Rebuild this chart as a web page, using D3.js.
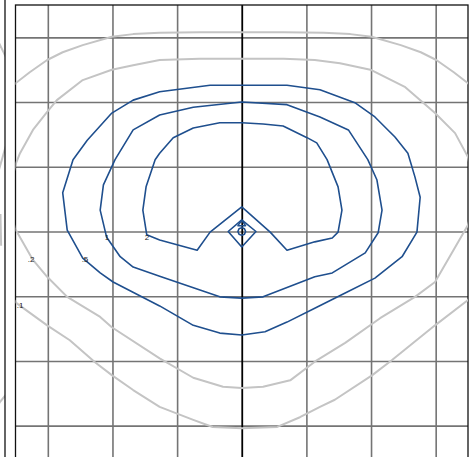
<!DOCTYPE html>
<html>
<head>
<meta charset="utf-8">
<script src="https://cdn.jsdelivr.net/npm/d3@7"></script>
<style>
  html, body { margin: 0; padding: 0; background: #fff; }
  svg { display: block; }
</style>
</head>
<body>
<svg id="chart" width="475" height="457"></svg>
<script>
// ---------- data (plot units, grid at integers) ----------
const gridTicks = [-3, -2, -1, 0, 1, 2, 3];
const levelLabels = [".1", ".2", ".5", "1", "2"];
const labelAnchors = [[-3.43, -1.15], [-3.26, -0.425], [-2.425, -0.425], [-2.085, -0.10], [-1.466, -0.10]];

const c01Top = [[-3.62,2.16],[-3.50,2.29],[-3.28,2.46],[-3.01,2.65],[-2.77,2.77],[-2.46,2.88],[-2.01,3.01],
  [-1.68,3.05],[-1.27,3.07],[-0.65,3.08],[0,3.08],[0.65,3.08],[1.27,3.07],[1.68,3.05],[2.01,3.01],
  [2.46,2.88],[2.77,2.77],[3.01,2.65],[3.28,2.46],[3.50,2.29],[3.62,2.16]];
const c01Bottom = [[-3.62,-0.93],[-3.48,-1.11],[-3.01,-1.45],[-2.66,-1.68],[-2.27,-2.02],[-2.01,-2.22],[-1.68,-2.45],
  [-1.27,-2.71],[-0.75,-2.91],[-0.45,-3.02],[0,-3.04],[0.55,-3.02],[0.90,-2.87],[1.21,-2.71],[1.44,-2.60],
  [2.02,-2.22],[2.32,-1.99],[2.99,-1.45],[3.50,-1.06],[3.62,-0.95]];
const c02 = [[-3.62,0.56],[-3.49,1.06],[-3.43,1.21],[-3.23,1.57],[-3.01,1.85],[-2.86,2.03],[-2.46,2.34],
  [-2.01,2.50],[-1.68,2.57],[-1.27,2.65],[-0.65,2.67],[0,2.67],[0.65,2.67],[1.13,2.65],[1.52,2.60],
  [1.99,2.50],[2.53,2.23],[2.99,1.83],[3.30,1.52],[3.50,1.15],[3.62,0.56],[3.50,0.10],[2.99,-0.78],
  [2.68,-1.01],[2.14,-1.34],[1.60,-1.72],[1.16,-1.99],[0.75,-2.30],[0.33,-2.40],[0,-2.42],[-0.29,-2.40],
  [-0.75,-2.26],[-1.27,-1.96],[-2.01,-1.48],[-2.19,-1.32],[-2.70,-1.01],[-3.01,-0.70],[-3.23,-0.44],[-3.51,0.05]];
const c05 = [[-1.27,2.16],[-0.49,2.26],[0,2.26],[0.70,2.26],[1.21,2.19],[1.75,1.99],[2.06,1.77],[2.37,1.46],
  [2.57,1.21],[2.68,0.84],[2.76,0.53],[2.71,-0.01],[2.48,-0.39],[2.06,-0.72],[1.60,-0.95],[1.16,-1.17],
  [0.70,-1.40],[0.36,-1.55],[0,-1.60],[-0.34,-1.57],[-0.75,-1.45],[-1.27,-1.15],[-1.99,-0.78],[-2.19,-0.64],
  [-2.46,-0.41],[-2.70,0.02],[-2.77,0.60],[-2.61,1.11],[-2.39,1.41],[-2.01,1.83],[-1.68,2.03]];
const c1 = [[-1.27,1.80],[-0.75,1.92],[0,2.00],[0.70,1.96],[1.21,1.77],[1.65,1.57],[1.95,1.11],[2.09,0.80],
  [2.17,0.33],[2.11,-0.02],[1.91,-0.33],[1.40,-0.64],[1.13,-0.70],[0.33,-1.01],[0,-1.03],[-0.34,-1.01],
  [-1.27,-0.69],[-1.68,-0.55],[-1.88,-0.39],[-2.09,-0.09],[-2.19,0.33],[-2.14,0.72],[-1.96,1.11],[-1.68,1.57]];
const c2 = [[-1.06,1.45],[-0.75,1.60],[-0.34,1.68],[0,1.68],[0.33,1.66],[0.64,1.63],[1.01,1.45],[1.16,1.37],
  [1.32,1.11],[1.49,0.69],[1.55,0.33],[1.49,-0.01],[1.40,-0.10],[1.13,-0.16],[0.70,-0.29],[0.44,-0.01],
  [0,0.38],[-0.49,-0.01],[-0.69,-0.29],[-1.27,-0.13],[-1.47,-0.05],[-1.53,0.33],[-1.48,0.69],[-1.34,1.11],[-1.27,1.21]];
const c5 = [[-0.21,0],[0,0.18],[0.22,0],[0,-0.24]];
const c7 = [[-0.06,0.09],[0,0.17],[0.06,0.09]];
const c10 = [[-0.06,0],[-0.042,0.042],[0,0.06],[0.042,0.042],[0.06,0],[0.042,-0.042],[0,-0.06],[-0.042,-0.042]];
// edge of the neighbouring panel (its right border sits at the left of the picture)
const neighbourBits = [
  [[3.35,3.03],[3.55,2.62]],
  [[3.40,0.93],[3.55,1.45]],
  [[3.43,0.27],[3.44,-0.22]],
  [[3.35,-2.72],[3.55,-2.48]]
];

// ---------- layout ----------
const svg = d3.select("#chart");
const x = d3.scaleLinear([-3.5, 3.5], [15.5, 468]);
const y = d3.scaleLinear([-3.5, 3.5], [458, 5]);
const xN = d3.scaleLinear([-3.5, 3.5], [5 - 452.5, 5]);

const defs = svg.append("defs");
defs.append("clipPath").attr("id", "clipMain").append("rect")
  .attr("x", x(-3.5)).attr("y", y(3.5)).attr("width", x(3.5) - x(-3.5)).attr("height", y(-3.5) - y(3.5));
defs.append("clipPath").attr("id", "clipN").append("rect")
  .attr("x", 0).attr("y", y(3.5)).attr("width", 5).attr("height", y(-3.5) - y(3.5));

const gridColor = "#747474";

// neighbour strip
const gN = svg.append("g");
gN.append("g").attr("transform", `translate(${xN(-3.5)},0)`)
  .call(d3.axisLeft(y).tickValues(gridTicks).tickSize(-(xN(3.5) - xN(-3.5))).tickFormat(""))
  .call(g => g.select(".domain").remove())
  .attr("clip-path", "url(#clipN)")
  .selectAll("line").attr("stroke", gridColor).attr("stroke-width", 1.6);
const lineN = d3.line().x(d => xN(d[0])).y(d => y(d[1]));
gN.append("g").attr("clip-path", "url(#clipN)").selectAll("path").data(neighbourBits).join("path")
  .attr("d", lineN).attr("fill", "none").attr("stroke", "#c4c4c4").attr("stroke-width", 2);
gN.append("line").attr("x1", xN(3.5)).attr("x2", xN(3.5)).attr("y1", 0).attr("y2", 457)
  .attr("stroke", "#111").attr("stroke-width", 1.3);

// main grid
const gMain = svg.append("g");
gMain.append("g").attr("transform", `translate(${x(-3.5)},0)`)
  .call(d3.axisLeft(y).tickValues(gridTicks).tickSize(-(x(3.5) - x(-3.5))).tickFormat(""))
  .call(g => g.select(".domain").remove())
  .selectAll("line").attr("stroke", gridColor).attr("stroke-width", 1.6);
gMain.append("g").attr("transform", `translate(0,${y(3.5)})`)
  .call(d3.axisBottom(x).tickValues(gridTicks).tickSize(y(-3.5) - y(3.5)).tickFormat(""))
  .call(g => g.select(".domain").remove())
  .selectAll(".tick line")
  .attr("stroke", d => d === 0 ? "#000" : gridColor)
  .attr("stroke-width", d => d === 0 ? 1.8 : 1.6);

// border
gMain.append("rect").attr("x", x(-3.5)).attr("y", y(3.5))
  .attr("width", x(3.5) - x(-3.5)).attr("height", y(-3.5) - y(3.5))
  .attr("fill", "none").attr("stroke", "#111").attr("stroke-width", 1.3);

// contours
const open = d3.line().x(d => x(d[0])).y(d => y(d[1]));
const closed = d3.line().x(d => x(d[0])).y(d => y(d[1])).curve(d3.curveLinearClosed);
const gC = gMain.append("g").attr("clip-path", "url(#clipMain)").attr("fill", "none")
  .attr("stroke-linejoin", "round");
const grey = "#c4c4c4", blue = "#1f4f8e";
[
  { d: c01Top, gen: open, col: grey, w: 2 },
  { d: c01Bottom, gen: open, col: grey, w: 2 },
  { d: c02, gen: closed, col: grey, w: 2 },
  { d: c05, gen: closed, col: blue, w: 1.6 },
  { d: c1, gen: closed, col: blue, w: 1.6 },
  { d: c2, gen: closed, col: blue, w: 1.6 },
  { d: c5, gen: closed, col: blue, w: 1.6 },
  { d: c7, gen: closed, col: blue, w: 1.4 },
  { d: c10, gen: closed, col: blue, w: 1.6 }
].forEach(c => {
  gC.append("path").attr("d", c.gen(c.d)).attr("stroke", c.col).attr("stroke-width", c.w);
});

// labels
gMain.append("g").selectAll("text").data(levelLabels).join("text")
  .attr("x", (d, i) => x(labelAnchors[i][0]))
  .attr("y", (d, i) => y(labelAnchors[i][1]))
  .attr("text-anchor", "middle").attr("dominant-baseline", "central")
  .attr("font-family", "Liberation Sans, Arial, sans-serif").attr("font-size", 8)
  .attr("fill", "#222").text(d => d);
</script>
</body>
</html>
